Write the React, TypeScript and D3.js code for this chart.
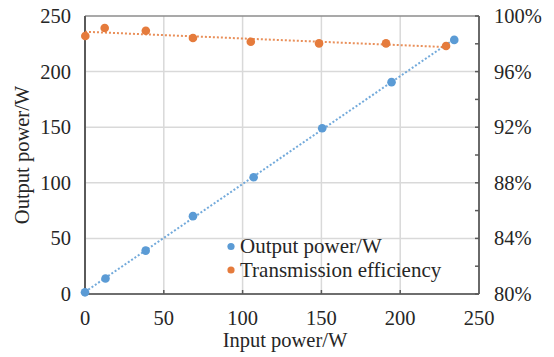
import React from "react";
import * as d3 from "d3";

// Measured input power (W) for each test point
const outputInput = [0, 13, 38.5, 68.5, 107, 150.5, 194.5, 234.3];
// Output power (W) at each test point
const outputPower = [1.5, 14, 39, 70, 105, 149, 190.5, 228.5];
// Input power (W) at which efficiency was recorded
const effInput = [0.2, 12.5, 38.6, 68.5, 105.2, 148.5, 191, 229.1];
// Transmission efficiency (%)
const efficiency = [98.56, 99.14, 98.94, 98.42, 98.15, 98.03, 98.03, 97.84];

const xTicks = [0, 50, 100, 150, 200, 250];
const yTicks = [0, 50, 100, 150, 200, 250];
const y2Ticks = [80, 84, 88, 92, 96, 100];
const y2Minor = [82, 86, 90, 94, 98];

const BLUE = "#5B9BD5";
const ORANGE = "#E57B3C";
const FONT = '"Liberation Serif", "Times New Roman", serif';

const W = 554;
const H = 357;
const M = { left: 85, right: 479, top: 16, bottom: 294 };

function linearFit(xs: number[], ys: number[]) {
  const mx = d3.mean(xs) as number;
  const my = d3.mean(ys) as number;
  const sxy = d3.sum(xs, (x, i) => (x - mx) * (ys[i] - my));
  const sxx = d3.sum(xs, (x) => (x - mx) * (x - mx));
  const slope = sxy / sxx;
  const intercept = my - slope * mx;
  return (x: number) => intercept + slope * x;
}

export default function App() {
  const x = d3.scaleLinear().domain([0, 250]).range([M.left, M.right]);
  const y = d3.scaleLinear().domain([0, 250]).range([M.bottom, M.top]);
  const y2 = d3.scaleLinear().domain([80, 100]).range([M.bottom, M.top]);

  const fitOut = linearFit(outputInput, outputPower);
  const fitEff = linearFit(effInput, efficiency);
  const [oMin, oMax] = d3.extent(outputInput) as [number, number];
  const [eMin, eMax] = d3.extent(effInput) as [number, number];

  const line = d3.line<[number, number]>();
  const outTrend = line([
    [x(oMin), y(Math.max(0, fitOut(oMin)))],
    [x(oMax), y(fitOut(oMax))],
  ]) as string;
  const effTrend = line([
    [x(Math.max(0, eMin - 0.2)), y2(fitEff(eMin))],
    [x(eMax), y2(fitEff(eMax))],
  ]) as string;

  const textColor = "#262626";
  const fs = 20.5;
  const legendFs = 21;

  return (
    <svg
      width={W}
      height={H}
      style={{ position: "absolute", left: 0, top: 0, background: "#fff", fontFamily: FONT }}
    >
      {/* grid */}
      {xTicks.slice(1, -1).map((t) => (
        <line key={"gx" + t} x1={x(t)} x2={x(t)} y1={M.top} y2={M.bottom} stroke="#d9d9d9" strokeWidth={1.5} />
      ))}
      {yTicks.slice(1, -1).map((t) => (
        <line key={"gy" + t} x1={M.left} x2={M.right} y1={y(t)} y2={y(t)} stroke="#d9d9d9" strokeWidth={1.5} />
      ))}
      {/* frame */}
      <line x1={M.left} x2={M.right} y1={M.top} y2={M.top} stroke="#8c8c8c" strokeWidth={1.5} />
      <line x1={M.left} x2={M.right} y1={M.bottom} y2={M.bottom} stroke="#6e6e6e" strokeWidth={1.8} />
      <line x1={M.left} x2={M.left} y1={M.top} y2={M.bottom} stroke="#5a5a5a" strokeWidth={2} />
      <line x1={M.right} x2={M.right} y1={M.top} y2={M.bottom} stroke="#5a5a5a" strokeWidth={1.8} />

      {/* ticks */}
      {xTicks.slice(1, -1).map((t) => (
        <line key={"tx" + t} x1={x(t)} x2={x(t)} y1={M.bottom} y2={M.bottom - 4} stroke="#5a5a5a" strokeWidth={1.5} />
      ))}
      {[...y2Ticks, ...y2Minor].map((t) => (
        <line key={"t2" + t} x1={M.right} x2={M.right - 4} y1={y2(t)} y2={y2(t)} stroke="#5a5a5a" strokeWidth={1.5} />
      ))}

      {/* tick labels */}
      {yTicks.map((t) => (
        <text key={"ly" + t} x={71} y={y(t)} dy="0.34em" textAnchor="end" fontSize={fs} fill={textColor}>
          {t}
        </text>
      ))}
      {xTicks.map((t) => (
        <text key={"lx" + t} x={x(t)} y={325} textAnchor="middle" fontSize={fs} fill={textColor}>
          {t}
        </text>
      ))}
      {y2Ticks.map((t) => (
        <text key={"l2" + t} x={494} y={y2(t)} dy="0.34em" textAnchor="start" fontSize={fs} fill={textColor}>
          {t}%
        </text>
      ))}

      {/* axis titles */}
      <text x={285} y={347} textAnchor="middle" fontSize={fs} fill={textColor}>
        Input power/W
      </text>
      <text
        transform={`translate(29, ${(M.top + M.bottom) / 2}) rotate(-90)`}
        textAnchor="middle"
        fontSize={fs}
        fill={textColor}
      >
        Output power/W
      </text>

      {/* trendlines */}
      <path d={outTrend} stroke={BLUE} strokeWidth={2} strokeDasharray="2 2" fill="none" opacity={0.85} />
      <path d={effTrend} stroke={ORANGE} strokeWidth={2} strokeDasharray="2 2" fill="none" opacity={0.85} />

      {/* points */}
      {effInput.map((v, i) => (
        <circle key={"pe" + i} cx={x(v)} cy={y2(efficiency[i])} r={4.3} fill={ORANGE} />
      ))}
      {outputInput.map((v, i) => (
        <circle key={"po" + i} cx={x(v)} cy={y(outputPower[i])} r={4.3} fill={BLUE} />
      ))}

      {/* legend */}
      <circle cx={231} cy={246.5} r={3.6} fill={BLUE} />
      <text x={240} y={253} fontSize={legendFs} fill={textColor}>
        Output power/W
      </text>
      <circle cx={231} cy={270} r={3.6} fill={ORANGE} />
      <text x={240} y={276.5} fontSize={legendFs} fill={textColor}>
        Transmission efficiency
      </text>
    </svg>
  );
}
